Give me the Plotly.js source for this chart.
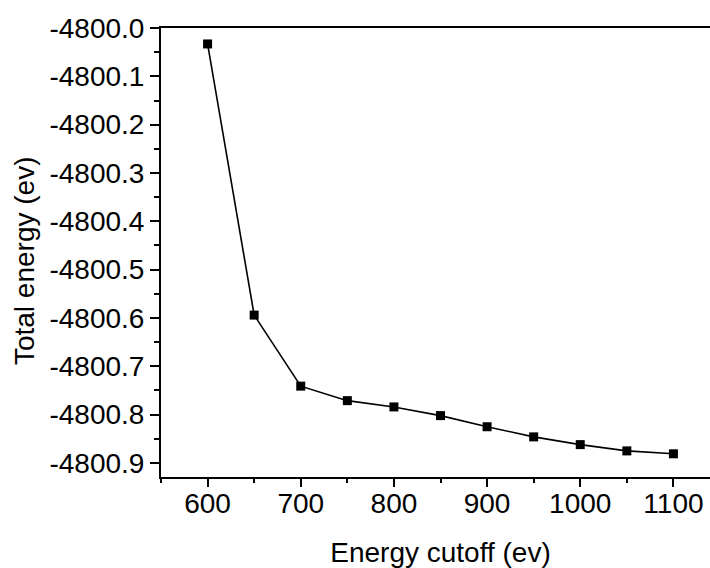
<!DOCTYPE html>
<html>
<head>
<meta charset="utf-8">
<script src="https://cdn.plot.ly/plotly-3.0.1.min.js"></script>
<style>
html, body { margin:0; padding:0; overflow:hidden; background:#fff; }
#chart { width:760px; height:568px; }
</style>
</head>
<body>
<div id="chart"></div>
<script>
// Data
var cutoff = [600, 650, 700, 750, 800, 850, 900, 950, 1000, 1050, 1100];
var totalEnergy = [-4800.033, -4800.594, -4800.741, -4800.771, -4800.784, -4800.802, -4800.825, -4800.846, -4800.862, -4800.875, -4800.881];

var xTickVals = [600, 700, 800, 900, 1000, 1100];
var xTickLabels = ["600", "700", "800", "900", "1000", "1100"];
var yTickVals = [-4800.0, -4800.1, -4800.2, -4800.3, -4800.4, -4800.5, -4800.6, -4800.7, -4800.8, -4800.9];
var yTickLabels = ["-4800.0", "-4800.1", "-4800.2", "-4800.3", "-4800.4", "-4800.5", "-4800.6", "-4800.7", "-4800.8", "-4800.9"];

var xTitle = "Energy cutoff (ev)";
var yTitle = "Total energy (ev)";

var font = "Liberation Sans, Arial, sans-serif";

var trace = {
  x: cutoff,
  y: totalEnergy,
  type: "scatter",
  mode: "lines+markers",
  line: { color: "#000", width: 1.6 },
  marker: { symbol: "square", size: 9, color: "#000", line: { width: 0 } },
  showlegend: false,
  hoverinfo: "skip"
};

// invisible companion trace so the tick-only overlay axis is drawn
var tickCarrier = {
  x: cutoff,
  y: totalEnergy,
  xaxis: "x2",
  yaxis: "y",
  type: "scatter",
  mode: "markers",
  marker: { size: 1, color: "rgba(0,0,0,0)" },
  showlegend: false,
  hoverinfo: "skip"
};

var layout = {
  width: 760,
  height: 568,
  margin: { l: 161, r: 40, t: 28, b: 91, pad: 0 },
  paper_bgcolor: "#fff",
  plot_bgcolor: "#fff",
  font: { family: font, color: "#000", size: 28 },
  xaxis: {
    range: [550, 1150],
    tickmode: "array",
    tickvals: xTickVals,
    ticktext: xTickLabels,
    ticks: "",
    tickfont: { family: font, size: 28, color: "#000" },
    showline: true,
    linewidth: 2,
    linecolor: "#000",
    mirror: true,
    showgrid: false,
    zeroline: false,
    title: { text: xTitle, font: { family: font, size: 28, color: "#000" }, standoff: 31 }
  },
  xaxis2: {
    overlaying: "x",
    anchor: "y",
    side: "bottom",
    range: [550, 1150],
    tickmode: "array",
    tickvals: xTickVals,
    showticklabels: false,
    ticks: "outside",
    ticklen: 9,
    tickwidth: 2,
    tickcolor: "#000",
    minor: { tickmode: "linear", tick0: 550, dtick: 50, ticks: "outside", ticklen: 5, tickwidth: 2, tickcolor: "#000", showgrid: false },
    showline: false,
    showgrid: false,
    zeroline: false
  },
  yaxis: {
    range: [-4800.929, -4800.0],
    tickmode: "array",
    tickvals: yTickVals,
    ticktext: yTickLabels,
    ticks: "outside",
    ticklen: 9,
    tickwidth: 2,
    tickcolor: "#000",
    tickfont: { family: font, size: 28, color: "#000" },
    minor: { tickmode: "linear", tick0: -4800.0, dtick: 0.05, ticks: "outside", ticklen: 5, tickwidth: 2, tickcolor: "#000", showgrid: false },
    showline: true,
    linewidth: 2,
    linecolor: "#000",
    mirror: false,
    showgrid: false,
    zeroline: false
  },
  annotations: [{
    text: yTitle,
    textangle: -90,
    xref: "paper", yref: "paper",
    x: -0.245, y: 0.481,
    xanchor: "center", yanchor: "middle",
    showarrow: false,
    font: { family: font, size: 28, color: "#000" }
  }]
};

Plotly.newPlot("chart", [tickCarrier, trace], layout, { staticPlot: true, displayModeBar: false, responsive: false });
</script>
</body>
</html>
